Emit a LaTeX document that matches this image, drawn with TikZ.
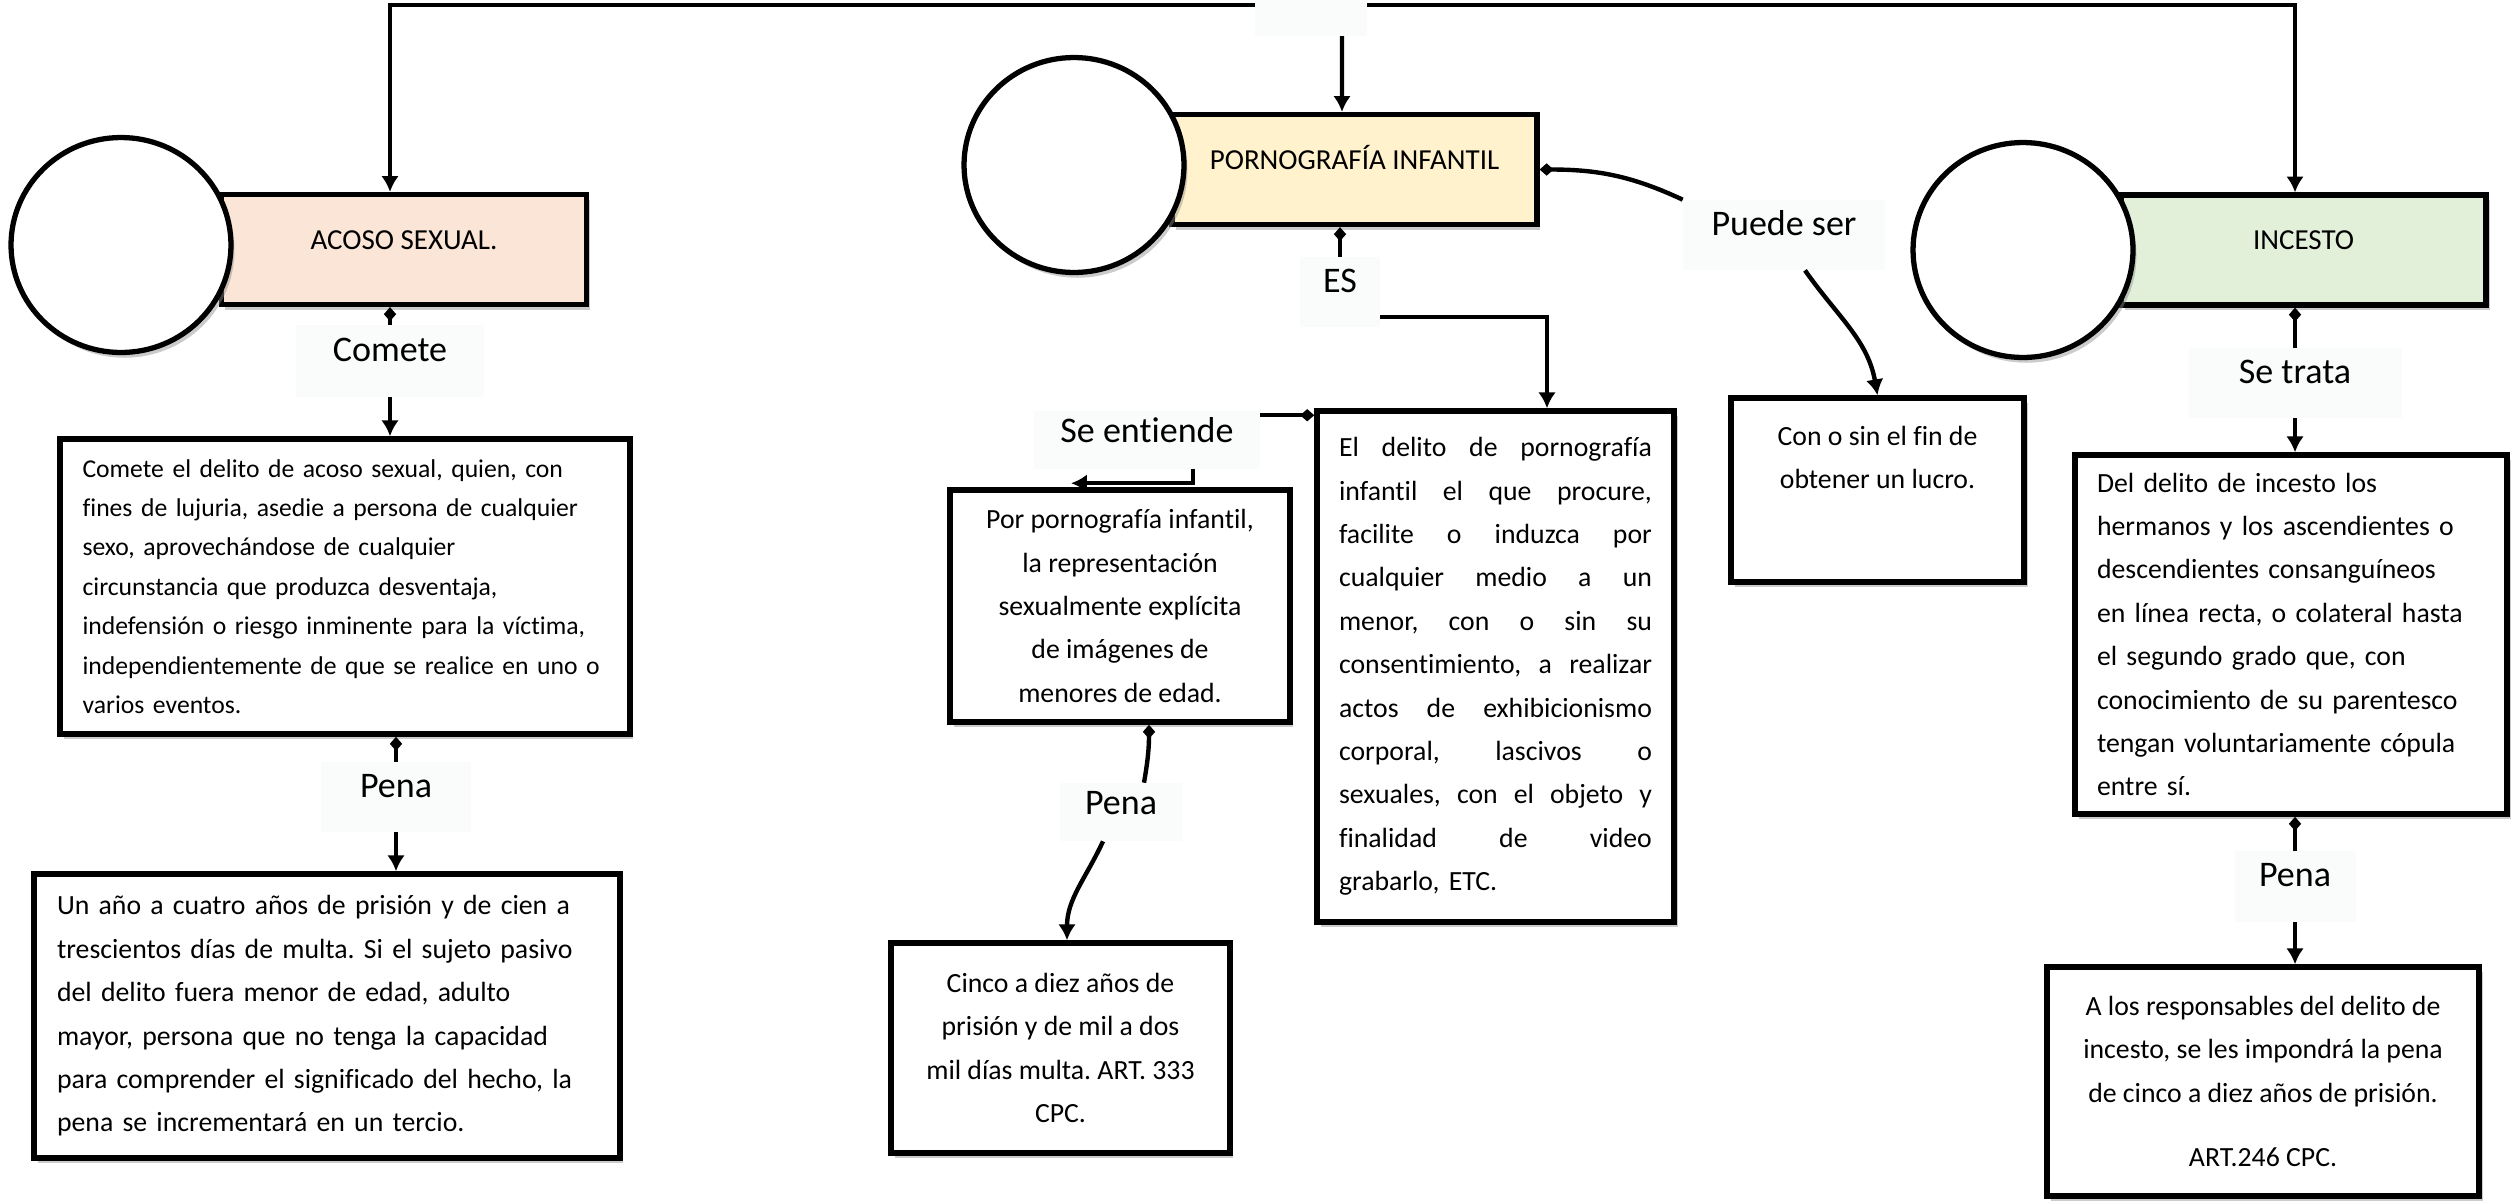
\documentclass[tikz,border=0pt]{standalone}
\usepackage{fontspec}
\setmainfont{Carlito}[Ligatures=NoCommon]
\usepackage{tikz}
\usetikzlibrary{arrows.meta, shapes.geometric, shadows}
\definecolor{acosoFill}{HTML}{FBE5D6}
\definecolor{pornoFill}{HTML}{FFF2CC}
\definecolor{incestoFill}{HTML}{E2EFD9}
\definecolor{etiqFill}{HTML}{FAFCFC}
\setlength{\parindent}{0pt}
\frenchspacing
\newcommand{\lineaj}[1]{\leavevmode\hbox to 6.26cm{#1}\\}

\begin{document}
\begin{tikzpicture}[
        x=0.02cm, y=-0.02cm,
        sombra/.style={
            drop shadow={shadow xshift=2pt, shadow yshift=-3pt, fill=black!45, opacity=0.45},
        },
        titulo/.style={
            draw,
            rectangle,
            line width=3pt,
            minimum width=7.3cm,
            minimum height=2.2cm,
            font=\fontsize{16.5pt}{20pt}\selectfont,
            text height=0.4cm,
            text depth=0.42cm,
            sombra,
        },
        bola/.style={
            draw,
            ellipse,
            line width=3pt,
            fill=white,
            minimum width=4.4cm,
            minimum height=4.3cm,
            sombra,
        },
        caja/.style={
            draw,
            rectangle,
            line width=3.2pt,
            fill=white,
            font=\fontsize{15.8pt}{24.7pt}\selectfont,
            sombra,
        },
        etiqueta/.style={
            fill=etiqFill,
            font=\fontsize{20.5pt}{24pt}\selectfont,
            text height=0.5cm,
            text depth=0.5cm,
        },
        conn/.style={
            line width=2.5pt,
            -{Latex[length=9pt, width=10pt]},
        },
        dstart/.style={
            line width=2.5pt,
            {Diamond[length=8pt, width=7pt]}-,
        },
    ]

    \useasboundingbox (0, 0) rectangle (2511, 1201);

    \node[etiqueta, minimum width=2.24cm, minimum height=1cm] (raiz) at (1311, 5) {};

    \node[titulo, fill=acosoFill] (acoso) at (404, 249.5) {ACOSO SEXUAL.};
    \node[titulo, fill=pornoFill] (porno) at (1354.5, 169.5) {PORNOGRAFÍA INFANTIL};
    \node[titulo, fill=incestoFill] (incesto) at (2303.5, 250) {INCESTO};

    \node[bola] (bolaA) at (121, 245) {};
    \node[bola] (bolaP) at (1074, 165) {};
    \node[bola] (bolaI) at (2023, 250) {};

    \node[etiqueta, minimum width=3.76cm, minimum height=1.44cm] (comete) at (390, 361) {Comete};
    \node[caja, font=\fontsize{14.6pt}{22.4pt}\selectfont, text width=10.5cm, inner xsep=0.45cm,
        minimum height=5.9cm, align=left] (acosoDef) at (345, 586.5) {Comete el delito de acoso sexual, quien, con\\
        fines de lujuria, asedie a persona de cualquier\\
        sexo, aprovechándose de cualquier\\
        circunstancia que produzca desventaja,\\
        indefensión o riesgo inminente para la víctima,\\
        independientemente de que se realice en uno o\\
        varios eventos.};
    \node[etiqueta, minimum width=3.02cm, minimum height=1.4cm] (penaA) at (396, 797) {Pena};
    \node[caja, text width=10.8cm, inner xsep=0.46cm, minimum height=5.68cm,
        align=left] (penaAcoso) at (327, 1016) {Un año a cuatro años de prisión y de cien a\\
        trescientos días de multa. Si el sujeto pasivo\\
        del delito fuera menor de edad, adulto\\
        mayor, persona que no tenga la capacidad\\
        para comprender el significado del hecho, la\\
        pena se incrementará en un tercio.};

    \node[etiqueta, minimum width=1.6cm, minimum height=1.4cm] (es) at (1340, 292) {ES};
    \node[etiqueta, minimum width=4.04cm, minimum height=1.4cm] (puede) at (1784, 235) {Puede ser};
    \node[etiqueta, minimum width=4.52cm, minimum height=1.16cm, text depth=0.42cm] (seEntiende) at (1147, 440) {Se entiende};
    \node[caja, minimum width=6.8cm, minimum height=4.64cm, align=center] (porDef) at (1120, 606) {Por pornografía infantil,\\
        la representación\\
        sexualmente explícita\\
        de imágenes de\\
        menores de edad.};
    \node[etiqueta, minimum width=2.44cm, minimum height=1.16cm, text depth=0.42cm] (penaP) at (1121, 812) {Pena};
    \node[caja, minimum width=6.78cm, minimum height=4.2cm, align=center] (cinco) at (1060.5, 1048) {Cinco a diez años de\\
        prisión y de mil a dos\\
        mil días multa. ART. 333\\
        CPC.};
    \node[caja, text width=6.26cm, inner xsep=0.44cm, minimum height=10.22cm] (elDelito) at (1495.5, 666.5) {\lineaj{El\hfill delito\hfill de\hfill pornografía}%
        \lineaj{infantil\hfill el\hfill que\hfill procure,}%
        \lineaj{facilite\hfill o\hfill induzca\hfill por}%
        \lineaj{cualquier\hfill medio\hfill a\hfill un}%
        \lineaj{menor,\hfill con\hfill o\hfill sin\hfill su}%
        \lineaj{consentimiento,\hfill a\hfill realizar}%
        \lineaj{actos\hfill de\hfill exhibicionismo}%
        \lineaj{corporal,\hfill lascivos\hfill o}%
        \lineaj{sexuales,\hfill con\hfill el\hfill objeto\hfill y}%
        \lineaj{finalidad\hfill de\hfill video}%
        grabarlo, ETC.};
    \node[caja, minimum width=5.86cm, minimum height=3.68cm, align=center] (lucro) at (1877.5, 490) {Con o sin el fin de\\
        obtener un lucro.\\[0.45cm]};

    \node[etiqueta, minimum width=4.26cm, minimum height=1.4cm] (setrata) at (2295, 383) {Se trata};
    \node[caja, text width=7.76cm, inner xsep=0.44cm, minimum height=7.18cm,
        align=left] (incestoDef) at (2291, 634.5) {Del delito de incesto los\\
        hermanos y los ascendientes o\\
        descendientes consanguíneos\\
        en línea recta, o colateral hasta\\
        el segundo grado que, con\\
        conocimiento de su parentesco\\
        tengan voluntariamente cópula\\
        entre sí.};
    \node[etiqueta, minimum width=2.42cm, minimum height=1.42cm] (penaI) at (2295, 886.5) {Pena};
    \node[caja, minimum width=8.64cm, minimum height=4.58cm, align=center] (penaInc) at (2263, 1081.5) {A los responsables del delito de\\
        incesto, se les impondrá la pena\\
        de cinco a diez años de prisión.\\[0.42cm]
        ART.246 CPC.};

    \draw[conn] (raiz.west) -| ([xshift=-0.28cm]acoso.north);
    \draw[conn] (raiz.east) -| ([xshift=-0.17cm]incesto.north);
    \draw[conn] ([xshift=0.62cm]raiz.south) -- ([xshift=-0.25cm]porno.north);

    \draw[dstart] (comete.north |- acoso.south) -- (comete.north);
    \draw[conn] (comete.south) -- (comete.south |- acosoDef.north);
    \draw[dstart] (penaA.north |- acosoDef.south) -- (penaA.north);
    \draw[conn] (penaA.south) -- (penaA.south |- penaAcoso.north);

    \draw[dstart] (es.north |- porno.south) -- (es.north);
    \draw[conn] ([yshift=-0.5cm]es.east) -| ([xshift=1.03cm]elDelito.north);
    \draw[dstart] (porno.east) to[out=0, in=155] (puede.north west);
    \draw[conn] ([xshift=0.42cm]puede.south) to[out=-55, in=100] (lucro.north);

    \coordinate (seA) at ([yshift=-0.14cm]elDelito.north west);
    \coordinate (seB) at ([xshift=0.92cm]seEntiende.south);
    \draw[dstart] (seA) -- (seA -| seEntiende.east);
    \draw[conn] (seB) |- ([xshift=-0.98cm, yshift=0.08cm]porDef.north);
    \draw[dstart] ([xshift=0.58cm]porDef.south) to[out=-90, in=80] ([xshift=0.46cm]penaP.north);
    \draw[conn] ([xshift=-0.36cm]penaP.south) to[out=-115, in=90] ([xshift=0.13cm]cinco.north);

    \draw[dstart] (setrata.north |- incesto.south) -- (setrata.north);
    \draw[conn] (setrata.south) -- (setrata.south |- incestoDef.north);
    \draw[dstart] (penaI.north |- incestoDef.south) -- (penaI.north);
    \draw[conn] (penaI.south) -- (penaI.south |- penaInc.north);
\end{tikzpicture}
\end{document}
